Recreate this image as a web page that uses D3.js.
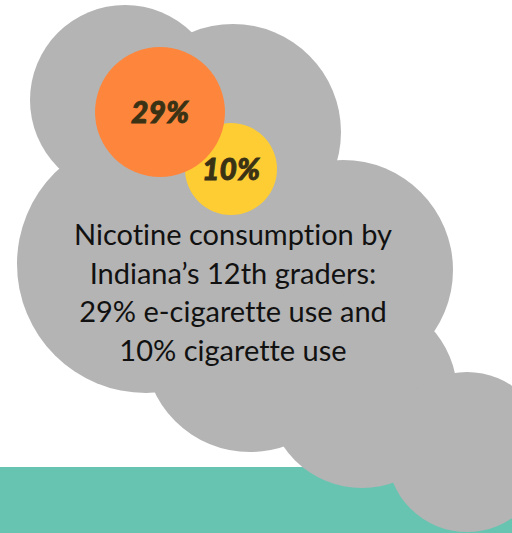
<!DOCTYPE html>
<html>
<head>
<meta charset="utf-8">
<script src="https://cdn.jsdelivr.net/npm/d3@7"></script>
<style>
  body { margin: 0; background: #fff; }
  svg { display: block; }
  text { font-variant-ligatures: none; font-feature-settings: "liga" 0; }
</style>
</head>
<body>
<div id="bubble-chart"></div>
<script>
// values
var categories = ["e-cigarette", "cigarette"];
var values = [29, 10];
var valueLabels = ["29%", "10%"];
var captionLines = [
  "Nicotine consumption by",
  "Indiana\u2019s 12th graders:",
  "29% e-cigarette use and",
  "10% cigarette use"
];

var initBubbleChart = {

  draw: function(config) {

    var width = 512,
      height = 533,
      domEle = config.element,
      grey = "#b4b4b4",
      colors = ["#fe863c", "#fecd33"],
      // cloud puffs behind everything (x, y, r)
      cloud = [
        [125, 100, 95], [233, 132, 108], [146, 264, 129], [343, 270, 110],
        [250, 346, 106], [362, 393, 95], [467, 452, 80]
      ],
      centers = [[160, 112], [231, 169]];

    var svg = d3.select("#" + domEle).append("svg")
      .attr("width", width)
      .attr("height", height);

    // teal ground band
    svg.append("rect")
      .attr("x", 0)
      .attr("y", 467)
      .attr("width", width)
      .attr("height", height - 467)
      .style("fill", "#67c4b1");

    svg.selectAll(".puff")
      .data(cloud)
      .enter().append("circle")
      .attr("class", "puff")
      .attr("cx", function(d) { return d[0]; })
      .attr("cy", function(d) { return d[1]; })
      .attr("r", function(d) { return d[2]; })
      .style("fill", grey);

    var rScale = d3.scaleLinear()
      .domain([d3.min(config.values), d3.max(config.values)])
      .range([46, 65]);

    var items = config.values.map(function(v, i) {
      return { key: config.categories[i], value: v, label: config.labels[i], i: i };
    });

    // draw the small one first so the big one sits on top
    var bubble = svg.selectAll(".bubble")
      .data(items.slice().sort(function(a, b) { return a.value - b.value; }))
      .enter().append("g")
      .attr("class", "bubble")
      .attr("transform", function(d) { return "translate(" + centers[d.i][0] + "," + centers[d.i][1] + ")"; });

    bubble.append("circle")
      .attr("r", function(d) { return rScale(d.value); })
      .style("fill", function(d) { return colors[d.i]; });

    // thin stroke to fake the heavier weight of the original
    bubble.append("text")
      .attr("y", 11)
      .style("text-anchor", "middle")
      .style("font-family", "Lato, 'Open Sans', sans-serif")
      .style("font-weight", "900")
      .style("font-style", "italic")
      .style("font-size", "30px")
      .style("fill", "#3a3215")
      .style("stroke", "#3a3215")
      .style("stroke-width", "0.9px")
      .text(function(d) { return d.label; });

    svg.append("g")
      .attr("class", "caption")
      .selectAll("text")
      .data(config.caption)
      .enter().append("text")
      .attr("x", 233)
      .attr("y", function(d, i) { return 245 + i * 38.5; })
      .style("text-anchor", "middle")
      .style("font-family", "Lato, 'Open Sans', sans-serif")
      .style("font-size", "29px")
      .style("fill", "#111")
      .text(function(d) { return d; });
  }
}

initBubbleChart.draw({
  element: "bubble-chart",
  categories: categories,
  values: values,
  labels: valueLabels,
  caption: captionLines
});
</script>
</body>
</html>
